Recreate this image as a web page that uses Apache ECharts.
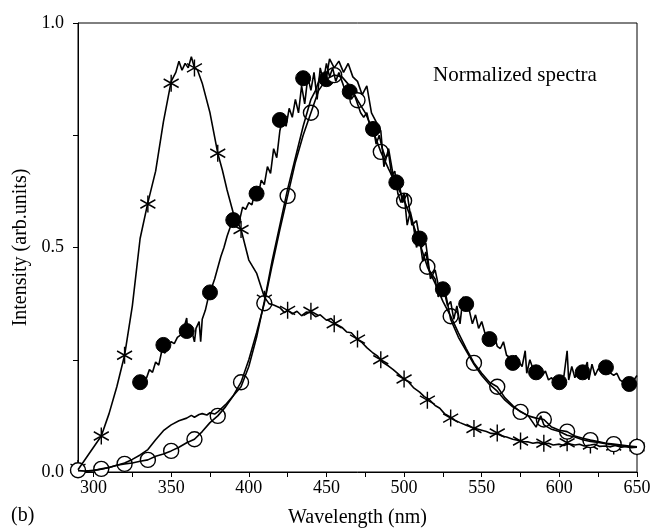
<!DOCTYPE html>
<html>
<head>
<meta charset="utf-8">
<script src="https://cdn.jsdelivr.net/npm/echarts@6.0.0/dist/echarts.min.js"></script>
<style>
  html, body { margin: 0; padding: 0; background: #fff; }
  #chart { width: 652px; height: 532px; }
</style>
</head>
<body>
<div id="chart"></div>
<script>
// x axis ticks / labels
const xTicks = [300, 325, 350, 375, 400, 425, 450, 475, 500, 525, 550, 575, 600, 625, 650];
const xLabels = [300, 350, 400, 450, 500, 550, 600, 650];
const yTicks = [0, 0.25, 0.5, 0.75, 1.0];
const yLabels = [0, 0.5, 1.0];

// spectrum marked with stars
const starWl = [290, 295, 300, 305, 310, 315, 320, 325, 330, 335, 340, 345, 350, 353, 355, 357, 359, 361, 363, 365, 367, 370, 375, 380, 383, 386, 390, 395, 400, 405, 410, 413, 416, 420, 423, 425, 428, 431, 434, 437, 440, 443, 446, 450, 453, 456, 460, 463, 466, 470, 473, 476, 480, 483, 486, 490, 493, 496, 500, 503, 506, 510, 513, 516, 520, 523, 526, 530, 533, 536, 540, 543, 546, 550, 553, 556, 560, 563, 566, 570, 573, 576, 580, 583, 586, 590, 593, 596, 600, 603, 606, 610, 613, 616, 620, 623, 626, 630, 633, 636, 640, 643, 646, 650];
const starI = [0.005, 0.03, 0.055, 0.08, 0.13, 0.19, 0.26, 0.37, 0.52, 0.6, 0.67, 0.78, 0.87, 0.89, 0.915, 0.895, 0.91, 0.9, 0.925, 0.9, 0.895, 0.866, 0.8, 0.71, 0.672, 0.628, 0.577, 0.54, 0.472, 0.443, 0.39, 0.375, 0.372, 0.366, 0.355, 0.36, 0.352, 0.358, 0.348, 0.356, 0.355, 0.346, 0.35, 0.338, 0.342, 0.33, 0.322, 0.312, 0.31, 0.295, 0.288, 0.277, 0.265, 0.258, 0.245, 0.236, 0.228, 0.219, 0.207, 0.2, 0.188, 0.178, 0.168, 0.162, 0.148, 0.142, 0.13, 0.122, 0.115, 0.11, 0.104, 0.1, 0.097, 0.093, 0.09, 0.086, 0.085, 0.08, 0.078, 0.073, 0.071, 0.068, 0.067, 0.064, 0.066, 0.062, 0.064, 0.06, 0.062, 0.059, 0.063, 0.06, 0.062, 0.058, 0.06, 0.062, 0.057, 0.058, 0.056, 0.059, 0.055, 0.057, 0.054, 0.055];
const starMarkWl = [290, 305, 320, 335, 350, 365, 380, 395, 410, 425, 440, 455, 470, 485, 500, 515, 530, 545, 560, 575, 590, 605, 620, 635, 650];
const starMarkI = [0.008, 0.08, 0.26, 0.597, 0.866, 0.9, 0.71, 0.54, 0.385, 0.36, 0.358, 0.33, 0.296, 0.25, 0.207, 0.16, 0.12, 0.097, 0.087, 0.069, 0.064, 0.065, 0.06, 0.058, 0.056];

// spectrum marked with filled circles
const fillWl = [330, 332, 334, 336, 338, 340, 342, 344, 346, 348, 350, 352, 354, 356, 358, 360, 361, 363, 365, 366, 368, 369, 370, 372, 374, 376, 378, 380, 382, 384, 386, 388, 390, 392, 394, 396, 398, 400, 402, 404, 406, 408, 410, 412, 414, 416, 418, 420, 422, 424, 426, 428, 430, 432, 434, 436, 438, 440, 442, 444, 446, 448, 450, 452, 454, 456, 458, 460, 462, 464, 466, 468, 470, 472, 474, 476, 478, 480, 482, 484, 486, 488, 490, 492, 494, 496, 498, 500, 502, 504, 506, 508, 510, 512, 514, 516, 518, 520, 522, 524, 526, 528, 530, 532, 534, 536, 538, 540, 542, 544, 546, 548, 550, 552, 554, 556, 558, 560, 562, 564, 566, 568, 570, 572, 574, 576, 578, 579, 581, 583, 585, 587, 589, 591, 593, 595, 597, 599, 601, 603, 605, 606, 608, 610, 612, 614, 616, 618, 619, 621, 623, 625, 627, 629, 631, 633, 635, 637, 639, 641, 643, 645, 647, 649, 650];
const fillI = [0.2, 0.212, 0.208, 0.228, 0.222, 0.245, 0.238, 0.27, 0.265, 0.282, 0.29, 0.286, 0.3, 0.305, 0.318, 0.343, 0.3, 0.318, 0.29, 0.32, 0.335, 0.29, 0.34, 0.36, 0.39, 0.41, 0.43, 0.455, 0.48, 0.5, 0.525, 0.545, 0.562, 0.575, 0.56, 0.59, 0.585, 0.6, 0.595, 0.625, 0.615, 0.65, 0.64, 0.68, 0.665, 0.72, 0.7, 0.76, 0.79, 0.77, 0.81, 0.79, 0.83, 0.8, 0.86, 0.82, 0.88, 0.85, 0.89, 0.83, 0.9, 0.87, 0.91, 0.88, 0.9, 0.87, 0.89, 0.87, 0.85, 0.86, 0.83, 0.84, 0.82, 0.8, 0.79, 0.8, 0.77, 0.77, 0.73, 0.75, 0.72, 0.7, 0.71, 0.66, 0.67, 0.62, 0.6, 0.62, 0.55, 0.58, 0.55, 0.5, 0.52, 0.47, 0.49, 0.45, 0.44, 0.43, 0.39, 0.41, 0.4, 0.37, 0.38, 0.34, 0.37, 0.33, 0.39, 0.375, 0.36, 0.33, 0.35, 0.32, 0.335, 0.31, 0.3, 0.29, 0.305, 0.28, 0.275, 0.29, 0.26, 0.255, 0.245, 0.26, 0.245, 0.235, 0.27, 0.22, 0.25, 0.23, 0.222, 0.23, 0.215, 0.225, 0.205, 0.21, 0.2, 0.2, 0.205, 0.215, 0.27, 0.205, 0.235, 0.21, 0.23, 0.222, 0.225, 0.245, 0.205, 0.24, 0.215, 0.23, 0.225, 0.235, 0.232, 0.22, 0.215, 0.22, 0.205, 0.2, 0.195, 0.196, 0.2, 0.21, 0.215];
const fillMarkWl = [330, 345, 360, 375, 390, 405, 420, 435, 450, 465, 480, 495, 510, 525, 540, 555, 570, 585, 600, 615, 630, 645];
const fillMarkI = [0.2, 0.283, 0.314, 0.4, 0.561, 0.62, 0.784, 0.877, 0.875, 0.847, 0.764, 0.645, 0.52, 0.407, 0.374, 0.296, 0.243, 0.222, 0.2, 0.222, 0.233, 0.196];

// spectrum marked with open circles
const openWl = [290, 295, 300, 305, 310, 315, 320, 325, 330, 335, 340, 345, 350, 355, 360, 365, 370, 375, 380, 385, 390, 395, 400, 405, 410, 415, 420, 425, 430, 435, 440, 445, 450, 455, 460, 465, 470, 475, 480, 485, 490, 495, 500, 505, 510, 515, 520, 525, 530, 535, 540, 545, 550, 555, 560, 565, 570, 575, 580, 585, 590, 595, 600, 605, 610, 615, 620, 625, 630, 635, 640, 645, 650];
const openI = [0.003, 0.002, 0.003, 0.007, 0.01, 0.015, 0.018, 0.02, 0.024, 0.027, 0.035, 0.04, 0.047, 0.055, 0.065, 0.073, 0.09, 0.11, 0.125, 0.145, 0.17, 0.2, 0.25, 0.31, 0.376, 0.46, 0.54, 0.615, 0.69, 0.75, 0.8, 0.85, 0.875, 0.884, 0.88, 0.86, 0.828, 0.8, 0.76, 0.713, 0.675, 0.64, 0.606, 0.56, 0.51, 0.457, 0.42, 0.38, 0.347, 0.31, 0.275, 0.243, 0.22, 0.2, 0.19, 0.165, 0.148, 0.134, 0.125, 0.12, 0.117, 0.1, 0.093, 0.09, 0.08, 0.075, 0.071, 0.068, 0.064, 0.062, 0.06, 0.058, 0.056];
const openMarkWl = [290, 305, 320, 335, 350, 365, 380, 395, 410, 425, 440, 455, 470, 485, 500, 515, 530, 545, 560, 575, 590, 605, 620, 635, 650];
const openMarkI = [0.004, 0.007, 0.018, 0.027, 0.047, 0.073, 0.125, 0.2, 0.376, 0.615, 0.8, 0.884, 0.828, 0.713, 0.604, 0.457, 0.347, 0.243, 0.19, 0.134, 0.117, 0.09, 0.071, 0.062, 0.056];

// spectrum without markers
const plainWl = [295, 300, 305, 310, 315, 320, 325, 330, 335, 340, 345, 350, 355, 360, 363, 365, 368, 370, 373, 375, 378, 380, 385, 390, 395, 400, 405, 410, 415, 420, 425, 430, 435, 440, 443, 446, 449, 452, 455, 458, 461, 464, 467, 470, 473, 476, 479, 482, 485, 487, 490, 493, 496, 499, 502, 505, 508, 511, 514, 517, 520, 523, 526, 530, 535, 540, 545, 550, 555, 560, 565, 570, 575, 580, 585, 588, 590, 595, 600, 605, 610, 615, 620, 625, 630, 635, 640, 645, 650];
const plainI = [0.002, 0.004, 0.006, 0.01, 0.015, 0.02, 0.028, 0.038, 0.05, 0.072, 0.092, 0.105, 0.114, 0.12, 0.126, 0.122, 0.128, 0.13, 0.127, 0.132, 0.129, 0.134, 0.15, 0.17, 0.19, 0.235, 0.3, 0.38, 0.47, 0.55, 0.63, 0.7, 0.77, 0.83, 0.85, 0.88, 0.86, 0.92, 0.9, 0.915, 0.89, 0.91, 0.88, 0.87, 0.84, 0.86, 0.8, 0.78, 0.76, 0.68, 0.72, 0.66, 0.66, 0.6, 0.62, 0.55, 0.56, 0.5, 0.51, 0.43, 0.45, 0.4, 0.41, 0.34, 0.3, 0.27, 0.24, 0.215, 0.195, 0.18, 0.16, 0.145, 0.135, 0.125, 0.1, 0.125, 0.105, 0.095, 0.09, 0.082, 0.078, 0.072, 0.068, 0.066, 0.063, 0.06, 0.058, 0.056, 0.055];

const zip = (xs, ys) => xs.map((x, i) => [x, ys[i]]);

const font = 'Liberation Serif';
const starPath = 'path://M7,0L7,16M0,4L14,12M0,12L14,4';

const lineSeries = (data) => ({
    type: 'line',
    data: data,
    showSymbol: false,
    symbol: 'none',
    lineStyle: { color: '#000', width: 1.6 },
    animation: false
});

const chart = echarts.init(document.getElementById('chart'));

const option = {
    animation: false,
    backgroundColor: '#fff',
    grid: {
        left: 78, right: 15, top: 23, bottom: 60,
        containLabel: false,
        outerBoundsMode: 'none',
        show: true, borderColor: '#000', borderWidth: 1
    },
    xAxis: {
        type: 'value',
        min: 290, max: 650,
        name: 'Wavelength (nm)',
        nameLocation: 'middle',
        nameGap: 36,
        nameTextStyle: { fontFamily: font, fontSize: 20, color: '#000' },
        axisLine: { show: true, lineStyle: { color: '#000', width: 1 } },
        axisTick: { show: true, length: 5, customValues: xTicks, lineStyle: { color: '#000' } },
        axisLabel: { customValues: xLabels, fontFamily: font, fontSize: 18, color: '#000', margin: 7 },
        splitLine: { show: false }
    },
    yAxis: {
        type: 'value',
        min: 0, max: 1,
        name: 'Intensity (arb.units)',
        nameLocation: 'middle',
        nameGap: 46,
        nameTextStyle: { fontFamily: font, fontSize: 20, color: '#000' },
        axisLine: { show: true, lineStyle: { color: '#000', width: 1 } },
        axisTick: { show: true, length: 5, customValues: yTicks, lineStyle: { color: '#000' } },
        axisLabel: {
            customValues: yLabels, fontFamily: font, fontSize: 18, color: '#000', margin: 14,
            formatter: (v) => v.toFixed(1)
        },
        splitLine: { show: false }
    },
    graphic: [
        {
            type: 'text', left: 433, top: 65,
            style: { text: 'Normalized spectra', font: '21px "Liberation Serif"', fill: '#000' }
        },
        {
            type: 'text', left: 11, top: 506,
            style: { text: '(b)', font: '20px "Liberation Serif"', fill: '#000' }
        }
    ],
    series: [
        lineSeries(zip(plainWl, plainI)),
        lineSeries(zip(openWl, openI)),
        lineSeries(zip(fillWl, fillI)),
        lineSeries(zip(starWl, starI)),
        {
            type: 'scatter',
            data: zip(starMarkWl, starMarkI),
            symbol: starPath,
            symbolSize: [15, 17],
            itemStyle: { color: '#000', borderColor: '#000', borderWidth: 1.5, opacity: 1 }
        },
        {
            type: 'scatter',
            data: zip(fillMarkWl, fillMarkI),
            symbol: 'circle',
            symbolSize: 15,
            itemStyle: { color: '#000', borderColor: '#000', borderWidth: 1, opacity: 1 }
        },
        {
            type: 'scatter',
            data: zip(openMarkWl, openMarkI),
            symbol: 'circle',
            symbolSize: 15,
            itemStyle: { color: '#fff', borderColor: '#000', borderWidth: 1.4, opacity: 1 }
        }
    ]
};

chart.setOption(option);
</script>
</body>
</html>
